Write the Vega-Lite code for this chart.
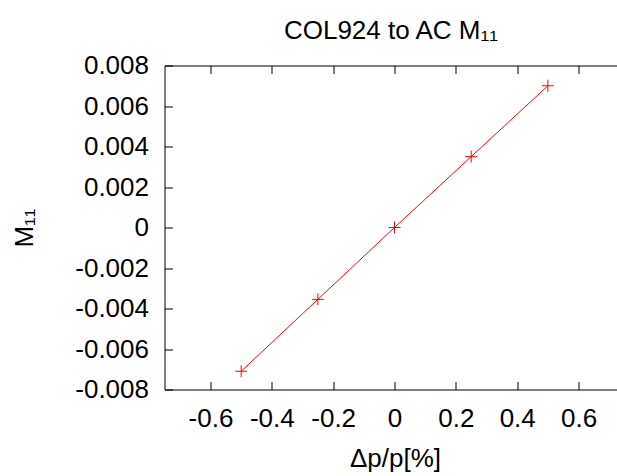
{
  "$schema": "https://vega.github.io/schema/vega-lite/v6.json",
  "autosize": "none",
  "width": 453,
  "height": 324,
  "padding": {"left": 164.5, "top": 65.5, "right": 0, "bottom": 86.5},
  "background": "white",
  "config": {
    "font": "Liberation Sans",
    "view": {"stroke": "black", "strokeWidth": 1},
    "axis": {
      "grid": false,
      "domain": false,
      "tickColor": "black",
      "tickSize": -8,
      "tickWidth": 1,
      "labelFont": "Liberation Sans",
      "labelFontSize": 26,
      "labelColor": "black",
      "titleFont": "Liberation Sans",
      "titleFontSize": 26,
      "titleFontWeight": "normal",
      "titleColor": "black"
    }
  },
  "title": {
    "text": "COL924 to AC M₁₁",
    "font": "Liberation Sans",
    "fontSize": 26,
    "fontWeight": "normal",
    "color": "black",
    "anchor": "middle",
    "offset": 9
  },
  "data": {
    "values": [
      {"dp": -0.5, "m11": -0.0071},
      {"dp": -0.25, "m11": -0.00355},
      {"dp": 0, "m11": 0},
      {"dp": 0.25, "m11": 0.0035},
      {"dp": 0.5, "m11": 0.007}
    ]
  },
  "layer": [
    {
      "mark": {"type": "line", "color": "red", "strokeWidth": 1},
      "encoding": {
        "x": {
          "field": "dp",
          "type": "quantitative",
          "scale": {"domain": [-0.75, 0.727], "nice": false, "zero": false},
          "axis": {
            "orient": "bottom",
            "values": [-0.6, -0.4, -0.2, 0, 0.2, 0.4, 0.6],
            "format": "~g",
            "labelExpr": "replace(datum.label, '−', '-')",
            "labelPadding": 24,
            "title": "Δp/p[%]",
            "titlePadding": 14,
            "titleX": 230.5
          }
        },
        "y": {
          "field": "m11",
          "type": "quantitative",
          "scale": {"domain": [-0.008, 0.008], "nice": false},
          "axis": {
            "values": [-0.008, -0.006, -0.004, -0.002, 0, 0.002, 0.004, 0.006, 0.008],
            "format": "~g",
            "labelExpr": "replace(datum.label, '−', '-')",
            "labelPadding": 24,
            "title": "M₁₁",
            "titlePadding": 37
          }
        }
      }
    },
    {
      "mark": {
        "type": "point",
        "shape": "M-1,0L1,0M0,-1L0,1",
        "filled": false,
        "color": "red",
        "strokeWidth": 1,
        "size": 144,
        "opacity": 1
      },
      "encoding": {
        "x": {
          "field": "dp",
          "type": "quantitative",
          "axis": {
            "orient": "top",
            "values": [-0.6, -0.4, -0.2, 0, 0.2, 0.4, 0.6],
            "labels": false,
            "title": null
          }
        },
        "y": {"field": "m11", "type": "quantitative"}
      }
    }
  ],
  "resolve": {"axis": {"x": "independent"}}
}
